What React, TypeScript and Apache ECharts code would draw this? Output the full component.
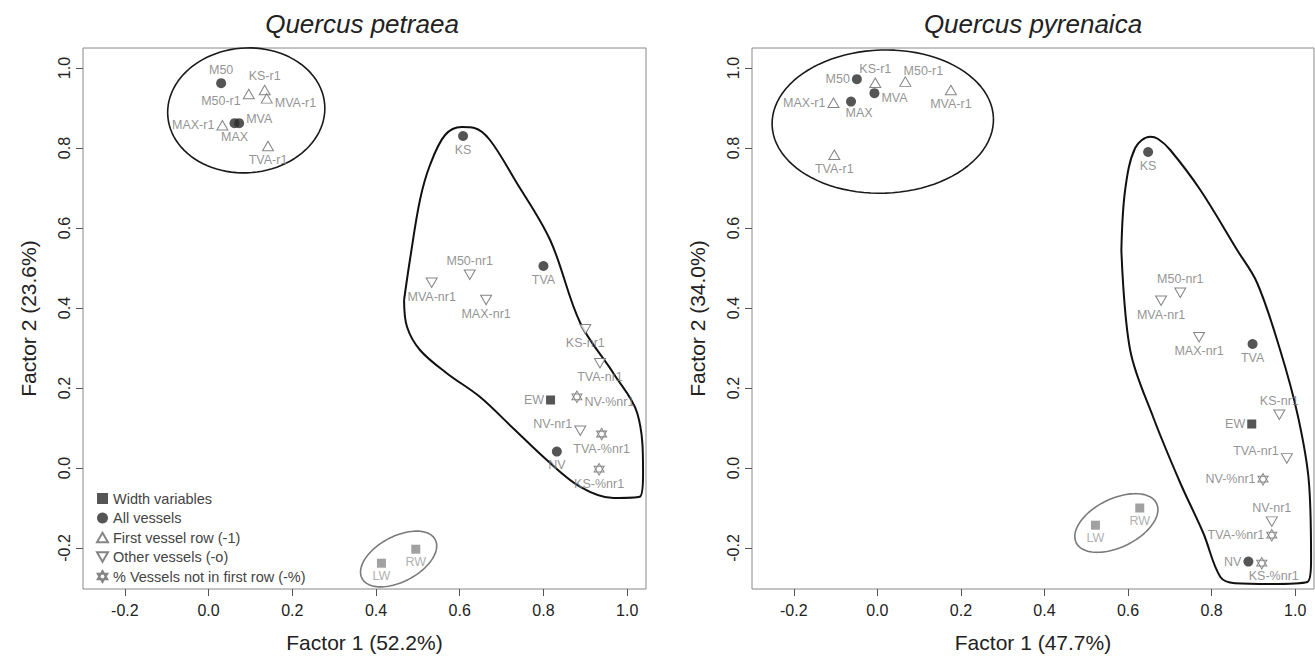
import React, { useEffect, useRef } from "react";
import * as echarts from "echarts";

const FONT = "'Liberation Sans', Arial, Helvetica, sans-serif";
const TICKS = [-0.2, 0, 0.2, 0.4, 0.6, 0.8, 1.0];

type Pt = [string, number, number];

// ---------- Quercus petraea ----------
const petraeaWidth: Pt[] = [["EW", 0.817, 0.17], ["LW", 0.413, -0.238], ["RW", 0.495, -0.203]];
const petraeaAll: Pt[] = [["M50", 0.03, 0.962], ["MVA", 0.073, 0.862], ["MAX", 0.062, 0.862], ["KS", 0.608, 0.83], ["TVA", 0.8, 0.505], ["NV", 0.832, 0.041]];
const petraeaFirst: Pt[] = [["M50-r1", 0.096, 0.935], ["KS-r1", 0.134, 0.945], ["MVA-r1", 0.139, 0.924], ["MAX-r1", 0.033, 0.857], ["TVA-r1", 0.142, 0.805]];
const petraeaOther: Pt[] = [["M50-nr1", 0.624, 0.483], ["MVA-nr1", 0.533, 0.463], ["MAX-nr1", 0.663, 0.42], ["KS-nr1", 0.9, 0.347], ["TVA-nr1", 0.935, 0.262], ["NV-nr1", 0.888, 0.093]];
const petraeaPct: Pt[] = [["NV-%nr1", 0.88, 0.178], ["TVA-%nr1", 0.939, 0.085], ["KS-%nr1", 0.933, -0.003]];
const petraeaHull: [number, number][] = [
  [0.467, 0.42], [0.474, 0.353], [0.505, 0.295], [0.569, 0.237], [0.648, 0.178], [0.727, 0.1], [0.808, 0.02],
  [0.888, -0.047], [0.967, -0.075], [1.03, -0.072], [1.038, -0.013], [1.024, 0.1375], [0.967, 0.237],
  [0.888, 0.3625], [0.816, 0.57], [0.732, 0.72], [0.672, 0.82], [0.635, 0.85], [0.605, 0.8525],
  [0.565, 0.8325], [0.529, 0.7575], [0.505, 0.67], [0.481, 0.52], [0.467, 0.42],
];
const petraeaLabels: Record<string, [string, number, number]> = {
  M50: ["top", 0, 0], "KS-r1": ["top", 0, 0], "M50-r1": ["left", 0, 7], "MVA-r1": ["right", 0, 5],
  "MAX-r1": ["left", 0, 0], MVA: ["right", 0, -4], MAX: ["bottom", 0, 0], "TVA-r1": ["bottom", 0, 0],
  KS: ["bottom", 0, 0], "M50-nr1": ["top", 0, 0], "MVA-nr1": ["bottom", 0, 0], "MAX-nr1": ["bottom", 0, 0],
  TVA: ["bottom", 0, 0], "KS-nr1": ["bottom", 0, 0], "TVA-nr1": ["bottom", 0, 0], EW: ["left", 0, 0],
  "NV-%nr1": ["right", 0, 5], "NV-nr1": ["left", 0, -7], "TVA-%nr1": ["bottom", 0, 0], NV: ["bottom", 0, 0],
  "KS-%nr1": ["bottom", 0, 0], LW: ["bottom", 0, 0], RW: ["bottom", 0, 0],
};

// ---------- Quercus pyrenaica ----------
const pyrenaicaWidth: Pt[] = [["EW", 0.896, 0.11], ["LW", 0.522, -0.143], ["RW", 0.628, -0.1]];
const pyrenaicaAll: Pt[] = [["M50", -0.049, 0.972], ["MVA", -0.007, 0.937], ["MAX", -0.063, 0.916], ["KS", 0.648, 0.79], ["TVA", 0.898, 0.31], ["NV", 0.888, -0.234]];
const pyrenaicaFirst: Pt[] = [["KS-r1", -0.005, 0.963], ["M50-r1", 0.067, 0.966], ["MVA-r1", 0.176, 0.945], ["MAX-r1", -0.105, 0.913], ["TVA-r1", -0.103, 0.783]];
const pyrenaicaOther: Pt[] = [["M50-nr1", 0.725, 0.438], ["MVA-nr1", 0.679, 0.418], ["MAX-nr1", 0.77, 0.327], ["KS-nr1", 0.962, 0.133], ["TVA-nr1", 0.98, 0.024], ["NV-nr1", 0.944, -0.134]];
const pyrenaicaPct: Pt[] = [["NV-%nr1", 0.923, -0.028], ["TVA-%nr1", 0.944, -0.168], ["KS-%nr1", 0.92, -0.238]];
const pyrenaicaHull: [number, number][] = [
  [0.584, 0.545], [0.605, 0.295], [0.66, 0.1275], [0.725, -0.0375], [0.78, -0.1625], [0.821, -0.2725],
  [0.856, -0.288], [0.94, -0.29], [1.029, -0.285], [1.038, -0.23], [1.033, -0.0375], [1.007, 0.1275],
  [0.964, 0.295], [0.909, 0.4625], [0.861, 0.545], [0.773, 0.695], [0.701, 0.795], [0.672, 0.8225],
  [0.653, 0.828], [0.617, 0.8], [0.593, 0.695], [0.584, 0.545],
];
const pyrenaicaLabels: Record<string, [string, number, number]> = {
  M50: ["left", 0, 0], "KS-r1": ["top", 0, 0], "M50-r1": ["top", 18, 3], "MVA-r1": ["bottom", 0, 0],
  "MAX-r1": ["left", 0, 0], MAX: ["bottom", 8, -2], MVA: ["right", 0, 5], "TVA-r1": ["bottom", 0, 0],
  KS: ["bottom", 0, 0], "M50-nr1": ["top", 0, 0], "MVA-nr1": ["bottom", 0, 0], "MAX-nr1": ["bottom", 0, 0],
  TVA: ["bottom", 0, 0], "KS-nr1": ["top", 0, 0], EW: ["left", 0, 0], "TVA-nr1": ["left", 0, -7],
  "NV-%nr1": ["left", 0, 0], "NV-nr1": ["top", 0, 0], "TVA-%nr1": ["left", 0, 0], NV: ["left", 0, 0],
  "KS-%nr1": ["bottom", 12, -2], LW: ["bottom", 0, 0], RW: ["bottom", 0, 0],
};

// ellipses: [cx, cy, a, b, rotationDeg, colour]
const petraeaEllipses: [number, number, number, number, number, string][] = [
  [0.09, 0.894, 0.188, 0.156, 5, "#1a1a1a"],
  [0.454, -0.2275, 0.1, 0.056, 30, "#7a7a7a"],
];
const pyrenaicaEllipses: [number, number, number, number, number, string][] = [
  [0.013, 0.866, 0.265, 0.179, 2, "#1a1a1a"],
  [0.572, -0.1375, 0.108, 0.06, 28, "#7a7a7a"],
];

const GREY_NAMES = ["LW", "RW"];

const SYM_UP = "path://M5,0 L10,8.66 L0,8.66 Z";
const SYM_DOWN = "path://M0,0 L10,0 L5,8.66 Z";
const SYM_STAR = "path://M5,0 L10,8.66 L0,8.66 Z M0,2.89 L10,2.89 L5,11.55 Z";

const CATS = [
  { name: "Width variables", symbol: "rect", size: [9, 9], style: { color: "#2b2b2b" }, icon: "rect" },
  { name: "All vessels", symbol: "circle", size: 10, style: { color: "#2b2b2b" }, icon: "circle" },
  { name: "First vessel row (-1)", symbol: SYM_UP, size: [11, 9.5], style: { color: "#ffffff", borderColor: "#666", borderWidth: 1 }, icon: SYM_UP },
  { name: "Other vessels (-o)", symbol: SYM_DOWN, size: [11, 9.5], style: { color: "#ffffff", borderColor: "#666", borderWidth: 1 }, icon: SYM_DOWN },
  { name: "% Vessels not in first row (-%)", symbol: SYM_STAR, size: [10, 11.5], style: { color: "#ffffff", borderColor: "#666", borderWidth: 1 }, icon: SYM_STAR },
];

function ellipsePoints(cx: number, cy: number, a: number, b: number, rot: number): [number, number][] {
  const out: [number, number][] = [];
  const th = (rot * Math.PI) / 180;
  for (let i = 0; i <= 96; i++) {
    const t = (i / 96) * Math.PI * 2;
    const dx = a * Math.cos(t) * Math.cos(th) - b * Math.sin(t) * Math.sin(th);
    const dy = a * Math.cos(t) * Math.sin(th) + b * Math.sin(t) * Math.cos(th);
    out.push([cx + dx, cy + dy]);
  }
  return out;
}

function panelSeries(idx: number, groups: Pt[][], labels: Record<string, [string, number, number]>, hull: [number, number][], ellipses: any[]) {
  const series: any[] = [];
  series.push({
    type: "line", name: "hull" + idx, xAxisIndex: idx, yAxisIndex: idx, data: hull, smooth: 0.35,
    symbol: "none", silent: true, clip: false, lineStyle: { color: "#111", width: 2 }, z: 1,
  });
  ellipses.forEach((e, k) => {
    series.push({
      type: "line", name: "ell" + idx + "_" + k, xAxisIndex: idx, yAxisIndex: idx,
      data: ellipsePoints(e[0], e[1], e[2], e[3], e[4]), symbol: "none", silent: true, clip: false,
      lineStyle: { color: e[5], width: 1.6 }, z: 1,
    });
  });
  groups.forEach((pts, gi) => {
    const cat = CATS[gi];
    series.push({
      type: "scatter", name: cat.name, xAxisIndex: idx, yAxisIndex: idx,
      symbol: cat.symbol, symbolSize: cat.size, itemStyle: cat.style, z: 3,
      label: { show: true, formatter: "{b}", color: "#777", fontSize: 12.5, fontFamily: FONT, distance: 2 },
      emphasis: { disabled: true },
      data: pts.map(([name, x, y]) => {
        const l = labels[name] || ["bottom", 0, 0];
        const grey = GREY_NAMES.includes(name);
        const item: any = { name, value: [x, y], label: { position: l[0], offset: [l[1], l[2]] } };
        if (grey) {
          item.itemStyle = { color: "#8a8a8a" };
          item.label.color = "#9a9a9a";
        }
        return item;
      }),
    });
  });
  return series;
}

function xAxis(idx: number, name: string) {
  return {
    type: "value", gridIndex: idx, min: -0.3, max: 1.045, name, nameLocation: "middle", nameGap: 43,
    nameTextStyle: { fontSize: 21, color: "#222", fontFamily: FONT },
    axisLine: { show: false, onZero: false }, splitLine: { show: false },
    axisTick: { show: true, inside: false, length: 7, customValues: TICKS, lineStyle: { color: "#555" } },
    axisLabel: { customValues: TICKS, formatter: (v: number) => v.toFixed(1), fontSize: 16, color: "#222", fontFamily: FONT, margin: 13 },
  };
}
function yAxis(idx: number, name: string) {
  return {
    type: "value", gridIndex: idx, min: -0.3025, max: 1.05, name, nameLocation: "middle", nameGap: 44,
    nameTextStyle: { fontSize: 21, color: "#222", fontFamily: FONT },
    axisLine: { show: false, onZero: false }, splitLine: { show: false },
    axisTick: { show: true, inside: false, length: 7, customValues: TICKS, lineStyle: { color: "#555" } },
    axisLabel: { customValues: TICKS, rotate: 90, formatter: (v: number) => v.toFixed(1), fontSize: 16, color: "#222", fontFamily: FONT, margin: 11 },
  };
}

export default function App() {
  const ref = useRef<HTMLDivElement>(null);
  useEffect(() => {
    if (!ref.current) return;
    const chart = echarts.init(ref.current, null, { renderer: "svg" });
    const option: any = {
      animation: false,
      backgroundColor: "#ffffff",
      textStyle: { fontFamily: FONT },
      grid: [
        { left: 83, top: 48, width: 563, height: 541, show: true, borderColor: "#888", borderWidth: 1 },
        { left: 752, top: 48, width: 562, height: 541, show: true, borderColor: "#888", borderWidth: 1 },
      ],
      xAxis: [xAxis(0, "Factor 1 (52.2%)"), xAxis(1, "Factor 1 (47.7%)")],
      yAxis: [yAxis(0, "Factor 2 (23.6%)"), yAxis(1, "Factor 2 (34.0%)")],
      legend: {
        orient: "vertical", left: 91, top: 486, itemWidth: 11, itemHeight: 11, itemGap: 4.5,
        textStyle: { fontSize: 14.5, color: "#444", fontFamily: FONT },
        selectedMode: false,
        data: CATS.map((c) => ({ name: c.name, icon: c.icon })),
      },
      graphic: [
        { type: "text", x: 362, y: 24, style: { text: "Quercus petraea", fontSize: 26, fontStyle: "italic", fontFamily: FONT, fill: "#222", align: "center", verticalAlign: "middle" } },
        { type: "text", x: 1033, y: 24, style: { text: "Quercus pyrenaica", fontSize: 26, fontStyle: "italic", fontFamily: FONT, fill: "#222", align: "center", verticalAlign: "middle" } },
      ],
      series: [
        ...panelSeries(0, [petraeaWidth, petraeaAll, petraeaFirst, petraeaOther, petraeaPct], petraeaLabels, petraeaHull, petraeaEllipses),
        ...panelSeries(1, [pyrenaicaWidth, pyrenaicaAll, pyrenaicaFirst, pyrenaicaOther, pyrenaicaPct], pyrenaicaLabels, pyrenaicaHull, pyrenaicaEllipses),
      ],
    };
    chart.setOption(option);
    return () => chart.dispose();
  }, []);
  return <div ref={ref} style={{ position: "absolute", left: 0, top: 0, width: 1315, height: 659 }} />;
}
